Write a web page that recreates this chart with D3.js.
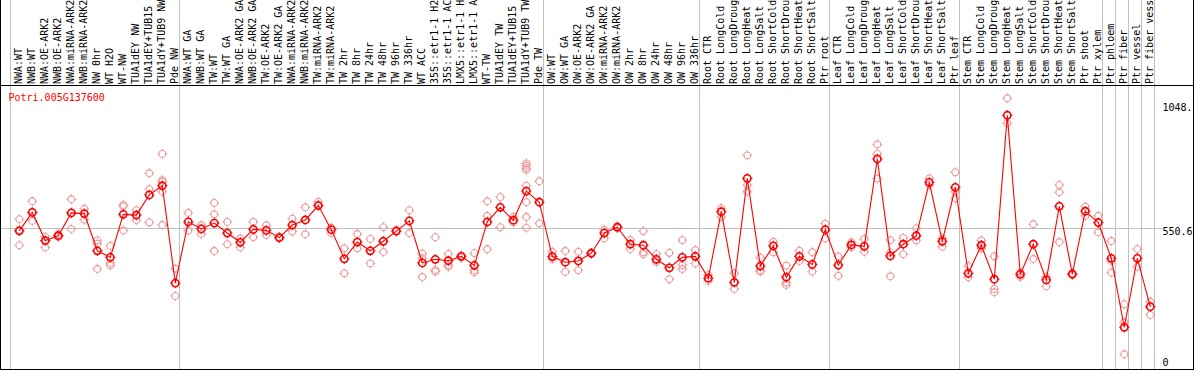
<!DOCTYPE html>
<html>
<head>
<meta charset="utf-8">
<script src="https://cdn.jsdelivr.net/npm/d3@7"></script>
<style>
body { margin: 0; background: #fff; }
svg { display: block; }
text { font-family: "DejaVu Sans Mono", monospace; font-size: 10px; }
</style>
</head>
<body>
<div id="chart"></div>
<script>
var gene = "Potri.005G137600"

var samples = ["NWA:WT","NWB:WT","NWA:OE-ARK2","NWB:OE-ARK2","NWA:miRNA-ARK2","NWB:miRNA-ARK2","NW 0hr","WT H2O","WT-NW","TUA1dEY NW","TUA1dEY+TUB15 NW","TUA1dY+TUB9 NW","Pde NW",
	"NWA:WT GA","NWB:WT GA","TW:WT","TW:WT GA","NWA:OE-ARK2 GA","NWB:OE-ARK2 GA","TW:OE-ARK2","TW:OE-ARK2 GA","NWA:miRNA-ARK2 GA","NWB:miRNA-ARK2 GA","TW:miRNA-ARK2","TW:miRNA-ARK2 GA","TW 2hr","TW 8hr","TW 24hr","TW 48hr","TW 96hr","TW 336hr","WT ACC","35S::etr1-1 H2O","35S::etr1-1 ACC","LMX5::etr1-1 H2O","LMX5::etr1-1 ACC","WT-TW","TUA1dEY TW","TUA1dEY+TUB15 TW","TUA1dY+TUB9 TW","Pde TW",
	"OW:WT","OW:WT GA","OW:OE-ARK2","OW:OE-ARK2 GA","OW:miRNA-ARK2","OW:miRNA-ARK2 GA","OW 2hr","OW 8hr","OW 24hr","OW 48hr","OW 96hr","OW 336hr",
	"Root CTR","Root LongCold","Root LongDrought","Root LongHeat","Root LongSalt","Root ShortCold","Root ShortDrought","Root ShortHeat","Root ShortSalt","Ptr root",
	"Leaf CTR","Leaf LongCold","Leaf LongDrought","Leaf LongHeat","Leaf LongSalt","Leaf ShortCold","Leaf ShortDrought","Leaf ShortHeat","Leaf ShortSalt","Ptr leaf",
	"Stem CTR","Stem LongCold","Stem LongDrought","Stem LongHeat","Stem LongSalt","Stem ShortCold","Stem ShortDrought","Stem ShortHeat","Stem ShortSalt","Ptr shoot","Ptr xylem",
	"Ptr phloem","Ptr fiber","Ptr vessel","Ptr fiber vessel"]

var groupSizes = [13, 28, 12, 10, 10, 11, 1, 1, 1, 1]

var means = [540,616,500,520,614,611,458,431,608,605,
	688,726,325,577,548,572,531,493,546,542,
	512,564,585,644,545,425,494,458,497,539,
	581,408,423,417,435,398,577,637,584,704,
	658,434,411,416,448,531,555,485,481,423,
	388,431,435,345,619,328,756,395,478,349,
	435,402,545,399,482,476,836,437,485,520,
	740,497,719,365,481,341,1016,361,485,338,
	641,362,621,574,427,143,427,228]

var replicates = [
	[588,544,481],[662,616,581],[516,500,472],[526,520,515],[670,614,548],
	[631,611,586],[501,487,383],[478,408,398],[647,641,542],[625,605,584],
	[777,712,575],[857,749,742,701,564],[384,272],[614,541],[564,527],
	[655,608,457],[577,485],[509,472],[577,514],[563,523],
	[516,509],[590,537],[637,526],[660,647],[553,530],
	[468,365],[527,468],[507,406],[555,498,453],[544,537],
	[625,531],[446,427,350],[514,379,372],[445,399,392],[438,430],
	[448,378,369],[662,601,464],[679,555],[598,575],[818,808,798,791,726,658,597,553],
	[744,571],[454,423],[457,371],[454,378],[450,444],
	[545,509],[559,551],[502,465],[539,452,444],[445,412],
	[449,341],[502,399,383],[461,406],[358,334],[633,597],
	[365,301],[851,729,701],[430,378,372],[495,452],[397,327,317],
	[458,416],[452,372],[570,509],[435,355],[493,472],
	[507,454],[896,857,755],[502,450,353],[511,444],[551,501],
	[756,729],[509,475],[781,701,674],[395,349],[501,468],
	[435,301,287],[1086,983],[369,350],[567,424],[351,312],
	[729,699,494],[365,358],[640,602],[602,534],[498,416,368],
	[238,163,32],[465,392],[248,194]
]

var yTicks = [0, 550.6, 1048]
var yTickLabels = ["0", "550.6", "1048."]

var width = 1194, height = 370
var plotTop = 85, plotBottom = 369
var colW = 13

var svg = d3.select("#chart").append("svg")
	.attr("width", width)
	.attr("height", height)

var x = d3.scaleBand()
	.domain(d3.range(samples.length))
	.range([10.3, 10.3 + samples.length * colW])
var dotOffset = 9
var cx = function(i){ return x(i) + dotOffset }

var y = d3.scaleLinear().domain([0, 1048]).range([362, 107.5])

// group separators
var starts = [0]
groupSizes.forEach(function(s){ starts.push(starts[starts.length - 1] + s) })
svg.selectAll(".sep")
	.data(starts)
	.enter().append("line")
	.attr("class", "sep")
	.attr("x1", function(d){ return Math.round(d < samples.length ? x(d) : x(samples.length - 1) + colW) + 0.5 })
	.attr("x2", function(d){ return Math.round(d < samples.length ? x(d) : x(samples.length - 1) + colW) + 0.5 })
	.attr("y1", 0).attr("y2", height)
	.attr("stroke", "#c0c0c0").attr("stroke-width", 1)

// horizontal reference line
svg.append("line")
	.attr("x1", 0).attr("x2", 1163)
	.attr("y1", Math.round(y(yTicks[1])) + 0.5).attr("y2", Math.round(y(yTicks[1])) + 0.5)
	.attr("stroke", "#c0c0c0").attr("stroke-width", 1)

// frame
svg.append("line").attr("x1", 0).attr("x2", width).attr("y1", plotTop + 0.5).attr("y2", plotTop + 0.5).attr("stroke", "#000")
svg.append("line").attr("x1", 0).attr("x2", width).attr("y1", plotBottom + 0.5).attr("y2", plotBottom + 0.5).attr("stroke", "#000")
svg.append("line").attr("x1", 0.5).attr("x2", 0.5).attr("y1", 0).attr("y2", height).attr("stroke", "#000")
svg.append("line").attr("x1", width - 0.5).attr("x2", width - 0.5).attr("y1", 0).attr("y2", height).attr("stroke", "#000")

// sample labels
svg.selectAll(".lab")
	.data(samples)
	.enter().append("text")
	.attr("class", "lab")
	.attr("transform", function(d, i){ return "translate(" + (cx(i) + 3) + "," + (plotTop - 1) + ") rotate(-90)" })
	.attr("fill", "#000")
	.text(function(d){ return d })

// y axis labels on the right
var axis = d3.axisRight(y)
	.tickValues(yTicks)
	.tickFormat(function(d, i){ return yTickLabels[i] })
	.tickSize(0)
	.tickPadding(0)
var ag = svg.append("g").attr("transform", "translate(1162.5,0)").call(axis)
ag.select(".domain").remove()
ag.selectAll("text")
	.attr("font-family", "DejaVu Sans Mono").attr("font-size", 10).attr("fill", "#000")
	.attr("dy", function(d){ return d == 550.6 ? "0.66em" : "0.32em" })

// title
svg.append("text")
	.attr("x", 8.5).attr("y", 101)
	.attr("fill", "#ff0000")
	.text(gene)

function marker(g, r, color, sw){
	g.append("circle").attr("r", r).attr("fill", "none").attr("stroke", color).attr("stroke-width", sw)
	var t = r + 1.6
	;[[0, -1], [0, 1], [-1, 0], [1, 0]].forEach(function(v){
		g.append("line")
			.attr("x1", v[0] * (r - 0.5)).attr("y1", v[1] * (r - 0.5))
			.attr("x2", v[0] * t).attr("y2", v[1] * t)
			.attr("stroke", color).attr("stroke-width", 1)
	})
}

// replicate circles
var repData = []
replicates.forEach(function(arr, i){ arr.forEach(function(v){ repData.push({i: i, v: v}) }) })
svg.selectAll(".rep")
	.data(repData)
	.enter().append("g")
	.attr("class", "rep")
	.attr("transform", function(d){ return "translate(" + cx(d.i) + "," + y(d.v) + ")" })
	.each(function(){ marker(d3.select(this), 3.4, "#ee9a9a", 1.1) })

// mean line
svg.append("path")
	.datum(means)
	.attr("fill", "none")
	.attr("stroke", "#ff0000")
	.attr("stroke-width", 1.1)
	.attr("d", d3.line().x(function(d, i){ return cx(i) }).y(function(d){ return y(d) }))

// mean circles
svg.selectAll(".mean")
	.data(means)
	.enter().append("g")
	.attr("class", "mean")
	.attr("transform", function(d, i){ return "translate(" + cx(i) + "," + y(d) + ")" })
	.each(function(){ marker(d3.select(this), 3.6, "#ff0000", 1.6) })
</script>
</body>
</html>
